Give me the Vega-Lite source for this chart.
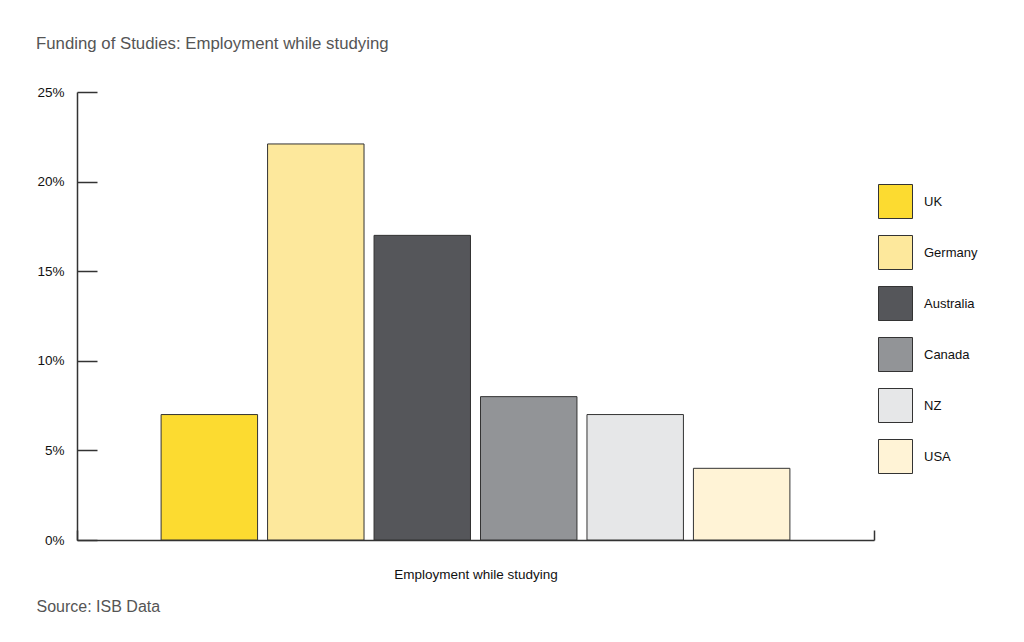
{
  "$schema": "https://vega.github.io/schema/vega-lite/v6.json",
  "width": 797,
  "height": 448,
  "autosize": {"type": "none"},
  "padding": {"left": 77, "top": 92, "right": 150, "bottom": 102},
  "background": "white",
  "config": {
    "font": "Liberation Sans",
    "view": {"stroke": null}
  },
  "title": {
    "text": "Funding of Studies: Employment while studying",
    "anchor": "start",
    "frame": "group",
    "dx": -41,
    "offset": 32,
    "fontSize": 16.8,
    "fontWeight": "normal",
    "color": "#555555",
    "font": "Liberation Sans"
  },
  "data": {
    "values": [
      {"measure": "Employment while studying", "country": "UK", "share": 0.07},
      {"measure": "Employment while studying", "country": "Germany", "share": 0.221},
      {"measure": "Employment while studying", "country": "Australia", "share": 0.17},
      {"measure": "Employment while studying", "country": "Canada", "share": 0.08},
      {"measure": "Employment while studying", "country": "NZ", "share": 0.07},
      {"measure": "Employment while studying", "country": "USA", "share": 0.04}
    ]
  },
  "mark": {"type": "bar", "stroke": "#333333", "strokeWidth": 1},
  "encoding": {
    "x": {
      "field": "measure",
      "type": "nominal",
      "scale": {"paddingInner": 0, "paddingOuter": 0},
      "axis": {
        "title": "Source: ISB Data",
        "titleAngle": 0,
        "titleAlign": "left",
        "titleBaseline": "alphabetic",
        "titleX": -41,
        "titleY": 71,
        "titleFontSize": 16,
        "titleFontWeight": "normal",
        "titleColor": "#555555",
        "labelAngle": 0,
        "labelFontSize": 13.5,
        "labelColor": "#111111",
        "labelPadding": 37,
        "tickBand": "extent",
        "tickSize": -10,
        "tickColor": "#333333",
        "tickWidth": 1.5,
        "domainColor": "#333333",
        "domainWidth": 1.5
      }
    },
    "xOffset": {
      "field": "country",
      "type": "nominal",
      "sort": ["UK", "Germany", "Australia", "Canada", "NZ", "USA"],
      "scale": {"paddingInner": 0.094, "paddingOuter": 0.79}
    },
    "y": {
      "field": "share",
      "type": "quantitative",
      "scale": {"domain": [0, 0.25]},
      "axis": {
        "title": null,
        "values": [0, 0.05, 0.1, 0.15, 0.2, 0.25],
        "format": ".0%",
        "grid": false,
        "labelFontSize": 13.5,
        "labelColor": "#111111",
        "labelPadding": 33,
        "tickSize": -20,
        "tickColor": "#333333",
        "tickWidth": 1.5,
        "domainColor": "#333333",
        "domainWidth": 1.5
      }
    },
    "fill": {
      "field": "country",
      "type": "nominal",
      "sort": ["UK", "Germany", "Australia", "Canada", "NZ", "USA"],
      "scale": {
        "domain": ["UK", "Germany", "Australia", "Canada", "NZ", "USA"],
        "range": ["#FCDB30", "#FDE89C", "#55565A", "#929497", "#E6E7E8", "#FFF3D6"]
      },
      "legend": {
        "title": null,
        "orient": "none",
        "legendX": 801,
        "legendY": 92,
        "symbolType": "square",
        "symbolSize": 1156,
        "symbolStrokeColor": "#333333",
        "symbolStrokeWidth": 1,
        "symbolOpacity": 1,
        "rowPadding": 12,
        "labelOffset": 11,
        "labelFontSize": 13,
        "labelColor": "#111111"
      }
    }
  }
}
